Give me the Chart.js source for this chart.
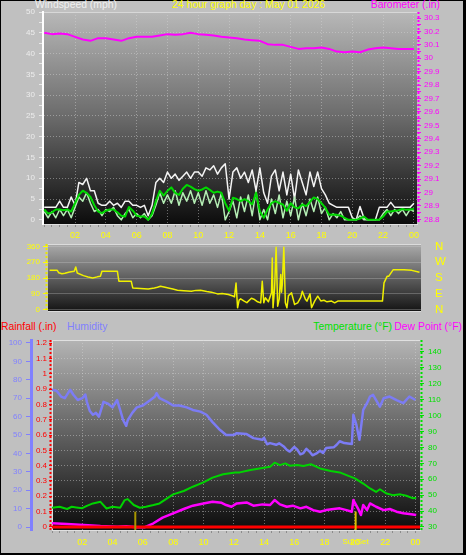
<!DOCTYPE html>
<html>
<head>
<meta charset="utf-8">
<script src="https://cdn.jsdelivr.net/npm/chart.js@4.4.1/dist/chart.umd.min.js"></script>
<style>
  html, body { margin: 0; padding: 0; background: #c0c0c0; }
  #frame {
    position: absolute; left: 0; top: 0; width: 466px; height: 555px;
    box-sizing: border-box; border-style: solid; border-color: #000;
    border-width: 1px 3px 2px 1px;
  }
  canvas { position: absolute; left: 0; }
  .t {
    position: absolute; white-space: nowrap; line-height: 12px;
    font: 10.4px "Liberation Sans", Arial, sans-serif;
  }
</style>
</head>
<body>
<div id="frame"></div>
<div class="t" style="left:35px; top:-1px; color:#f0f0f0">Windspeed (mph)</div>
<div class="t" style="left:172px; top:-1px; color:#ffff00">24 hour graph day : May 01 2026</div>
<div class="t" style="right:26px; top:-1px; color:#ff00ff">Barometer (.in)</div>
<div class="t" style="left:1px; top:321px; color:#ff0000">Rainfall (.in)</div>
<div class="t" style="left:67px; top:321px; color:#8080ff">Humidity</div>
<div class="t" style="right:74px; top:321px; color:#00e000">Temperature (°F)</div>
<div class="t" style="right:4px; top:321px; color:#ff00ff">Dew Point (°F)</div>

<canvas id="windChart" width="466" height="246" style="top:0"></canvas>
<canvas id="dirChart" width="466" height="84" style="top:236px"></canvas>
<canvas id="tempChart" width="466" height="225" style="top:330px"></canvas>

<script>
const FONT = '"Liberation Sans", Arial, sans-serif';

// ─── Data ────────────────────────────────────────────
// wind (mph), one reading every 15 min from 00:00 to 24:00
const windStep = 0.25;
const windGust = [
  3.0, 3.0, 3.0, 3.0, 4.5, 3.0, 3.0, 5.5,
  3.5, 9.0, 8.5, 10.0, 7.0, 7.0, 4.0, 3.5,
  3.5, 4.5, 3.5, 4.0, 3.0, 4.5, 4.5, 3.5,
  3.5, 3.0, 3.5, 1.0, 3.5, 9.0, 10.0, 9.0,
  11.5, 10.0, 11.0, 9.5, 10.5, 11.5, 10.0, 11.5,
  11.5, 10.5, 12.5, 12.0, 13.0, 11.0, 12.5, 13.5,
  5.0, 11.5, 12.5, 10.0, 11.5, 9.0, 12.0, 7.0,
  12.5, 6.5, 4.0, 10.5, 12.0, 7.0, 11.5, 6.0,
  11.0, 5.0, 12.0, 9.0, 6.0, 11.5, 8.0, 11.5,
  7.5, 6.0, 4.0, 3.5, 3.0, 3.0, 3.0, 3.0,
  0.5, 0, 3.2, 0.5, 0, 0, 0, 3.0,
  3.0, 3.0, 4.2, 3.0, 3.0, 3.0, 3.0, 3.0,
  4.0
];
const windSpeed = [
  2.0, 0.5, 2.0, 0.5, 2.5, 1.0, 2.5, 0.5,
  3.0, 5.5, 4.5, 6.5, 4.0, 2.0, 2.5, 1.0,
  2.5, 2.0, 3.0, 1.0, 0, 1.5, 2.5, 0.5,
  1.5, 0.5, 1.5, 0, 1.0, 3.5, 6.5, 4.0,
  6.0, 4.0, 7.0, 3.5, 6.5, 4.5, 7.0, 4.0,
  6.5, 3.5, 7.0, 4.0, 6.0, 3.0, 6.5, 0,
  2.0, 4.5, 0.5, 5.5, 2.0, 6.0, 1.0, 7.0,
  0, 2.5, 0, 5.0, 1.5, 6.0, 0.5, 4.5,
  1.0, 5.5, 0, 4.0, 1.0, 5.0, 2.0, 5.5,
  1.5, 3.0, 0, 1.5, 0.5, 2.0, 0, 0,
  0, 0, 1.0, 0, 0, 0, 0, 0,
  1.5, 2.5, 1.0, 2.5, 1.5, 2.5, 1.0, 2.5,
  2.0
];
const windAvg = [
  2.5, 1.5, 1.8, 2.5, 2.5, 2.3, 2.5, 2.0,
  4.0, 6.0, 7.0, 6.5, 5.5, 3.5, 2.0, 1.6,
  2.2, 2.5, 2.5, 1.8, 1.0, 0.8, 3.1, 2.2,
  1.0, 0.8, 0.8, 0.0, 1.5, 4.5, 7.0, 5.8,
  7.0, 7.8, 6.5, 6.0, 7.5, 8.4, 8.0, 7.4,
  7.0, 7.3, 7.8, 7.2, 6.5, 6.8, 6.5, 4.0,
  2.2, 5.3, 5.0, 4.5, 5.0, 4.5, 3.7, 6.5,
  2.0, 0.5, 2.5, 4.0, 4.5, 4.0, 3.7, 2.2,
  4.0, 3.0, 2.8, 3.7, 3.3, 4.3, 5.4, 5.0,
  4.0, 2.9, 1.2, 1.3, 1.2, 1.0, 0.5, 0,
  0, 0, 0.3, 0.8, 0, 0, 0, 0,
  0.8, 2.0, 2.0, 2.2, 2.3, 2.6, 2.4, 2.5,
  2.6
];

// barometer (in), every 30 min
const baroStep = 0.5;
const baro = [
  30.19, 30.18, 30.185, 30.18,
  30.16, 30.14, 30.13, 30.15,
  30.15, 30.14, 30.13, 30.15,
  30.16, 30.16, 30.16, 30.17,
  30.18, 30.175, 30.18, 30.19,
  30.18, 30.175, 30.17, 30.16,
  30.155, 30.15, 30.14, 30.135,
  30.13, 30.105, 30.10, 30.10,
  30.085, 30.07, 30.075, 30.075,
  30.08, 30.07, 30.05, 30.045,
  30.05, 30.045, 30.065, 30.075,
  30.08, 30.075, 30.07, 30.07,
  30.07
];

// wind direction (degrees)
const dirHours = [
  0, 0.5, 0.6, 0.8, 1.0, 1.3, 1.6, 1.7, 1.8, 2.2, 2.5, 2.8, 3.1, 3.3, 3.4, 4.4, 4.5,
  5.3, 5.4, 6.4, 6.8, 7.0, 7.2, 7.5, 7.7, 8.0, 8.3, 8.7, 9.2, 9.5, 9.8, 10.2, 10.5,
  10.9, 11.2, 11.6, 11.9, 12.0, 12.1, 12.2, 12.3, 12.4, 12.6, 12.8, 12.9, 13.1, 13.3,
  13.5, 13.7, 13.8, 13.9, 14.0, 14.2, 14.4, 14.45, 14.5, 14.6, 14.7, 14.8, 14.9, 15.0,
  15.05, 15.1, 15.2, 15.3, 15.4, 15.5, 15.7, 15.9, 16.1, 16.3, 16.4, 16.6, 16.7, 16.9,
  17.0, 17.2, 17.4, 17.6, 17.8, 18.0, 18.3, 18.5, 18.7, 21.6, 21.7, 21.9, 22.0, 22.3,
  23.0, 23.5, 24.0
];
const dirDeg = [
  224, 224, 210, 205, 208, 215, 219, 243, 209, 194, 186, 181, 187, 190, 219, 219, 162,
  162, 124, 118, 124, 128, 134, 128, 124, 118, 111, 108, 105, 110, 111, 104, 100,
  90, 92, 87, 78, 73, 152, 11, 55, 62, 50, 40, 49, 65, 58,
  45, 39, 162, 40, 68, 45, 96, 294, 11, 120, 356, 20, 60, 200,
  100, 143, 356, 40, 11, 80, 96, 30, 39, 70, 105, 60, 49, 90,
  11, 49, 77, 50, 54, 45, 49, 39, 49, 49, 153, 190, 190, 228,
  228, 224, 213
];

// humidity (%)
const humHours = [
  0, 0.3, 0.6, 0.85, 1.2, 1.4, 1.7, 2.0, 2.2, 2.3, 2.5, 2.7, 2.9, 3.1, 3.4, 3.7, 4.0,
  4.3, 4.5, 4.7, 4.9, 5.0, 5.3, 5.6, 6.0, 6.5, 6.8, 6.9, 7.1, 7.6, 8.0, 8.4, 8.9,
  9.3, 9.8, 10.2, 10.6, 11.1, 11.5, 12.0, 12.2, 12.85, 13.3, 13.9, 14.0, 14.2, 14.4,
  14.8, 15.0, 15.3, 15.5, 15.7, 16.0, 16.2, 16.4, 16.6, 16.8, 17.0, 17.2, 17.5, 17.7,
  17.9, 18.1, 18.6, 18.8, 19.0, 19.3, 19.8, 19.9, 20.1, 20.3, 20.55, 20.8, 21.0, 21.2,
  21.4, 21.65, 21.9, 22.3, 22.75, 23.2, 23.6, 24.0
];
const humidity = [
  74.6, 74, 70.9, 70, 74.6, 72, 69, 70, 72, 68, 63, 61, 62, 60, 68, 67, 65,
  69, 63.6, 58, 55, 58, 62, 65, 66, 69, 70.9, 72.7, 70, 68, 66, 66, 65,
  63.6, 62.7, 61, 57, 52.7, 50, 50, 51, 50.5, 48.3, 47.4, 48.5, 45, 45.6,
  44.7, 45.5, 43.8, 42, 41, 43.5, 42, 39.5, 40.2, 42.5, 41, 39, 40.2, 41.5,
  40.2, 42.9, 43.3, 44.7, 46.6, 45.6, 45.1, 61, 55.5, 47.4, 63.6, 67.3, 70.9, 71.8,
  69, 65.4, 70, 70.9, 69, 67.3, 70.9, 69
];

// temperature (°F)
const tempHours = [
  0, 0.5, 1.0, 1.3, 1.6, 2.0, 2.3, 2.7, 3.2, 3.6, 4.0, 4.5, 4.8, 5.0, 5.4, 5.8, 6.2,
  6.7, 7.1, 7.6, 8.0, 8.7, 9.3, 10.0, 10.6, 11.3, 12.1, 12.4, 13.1, 13.7, 14.4, 14.7,
  15.05, 15.4, 15.7, 16.2, 16.6, 17.1, 17.7, 18.4, 19.0, 19.45, 20.0, 20.55, 21.0,
  21.4, 21.65, 22.1, 22.5, 23.0, 23.4, 23.85, 24.05
];
const temperature = [
  42.1, 42.7, 41.3, 42.7, 42.3, 41.8, 43.3, 44.8, 45.8, 41.6, 42.7, 42.1, 46.9, 47.5, 43.8, 42.1, 42.7,
  43.8, 44.8, 48, 50.5, 52.6, 55.3, 58, 61, 63.1, 64.3, 64.3, 65.8, 66.8, 67.9, 70.4,
  68.9, 70, 68.5, 68.9, 68.3, 69.4, 66.8, 65.2, 64.3, 62.6, 60.5, 57.3, 54.2,
  52, 53.7, 51, 50, 50.5, 49.6, 48, 48.4
];

// dew point (°F)
const dewHours = [
  0, 1.0, 2.1, 3.2, 4.3, 4.9, 5.6, 6.1, 6.7, 7.3, 8.0, 8.7, 9.3, 10.0, 10.6, 11.2, 11.5,
  11.85, 12.2, 12.85, 13.3, 13.9, 14.4, 14.7, 15.05, 15.5, 15.9, 16.4, 16.8, 17.25, 17.7,
  18.1, 18.6, 19.0, 19.45, 19.8, 19.9, 20.2, 20.4, 20.55, 20.8, 21.0, 21.4, 21.9, 22.3,
  22.75, 23.2, 23.6, 24.05
];
const dewPoint = [
  32.3, 31.9, 31.3, 30.6, 30.2, 30.4, 29.8, 29.8, 32.3, 35.9, 38.6, 41.3, 43.4, 44.8, 45.9, 45.2, 43.8,
  42.7, 44.8, 45.4, 43.4, 44.2, 43.8, 46.9, 44.2, 42.7, 43.4, 41.7, 42.7, 40.6, 39.6,
  40.6, 41.3, 41.7, 40.6, 39.6, 46.9, 41.7, 37.5, 43.8, 40.6, 44.8, 42.7, 40.6, 41.3,
  39.6, 38.6, 38.2, 37.5
];

// rainfall (in)
const rainHours = [0, 24.3];
const rain = [0, 0];

const sunrise = 5.5;
const sunset = 20.05;

// ─── Helpers ─────────────────────────────────────────
const steps = (step, arr) => arr.map((v, i) => ({ x: i * step, y: v }));
const pairs = (hours, arr) => arr.map((v, i) => ({ x: hours[i], y: v }));

const hourLabel = v => {
    const r = Math.round(v * 2) / 2;
    if (r <= 0 || r % 2 !== 0) return '';
    return String(r % 24).padStart(2, '0');
};
const isMajorHour = ctx => {
    const r = Math.round(ctx.tick.value * 2) / 2;
    return r > 0 && r % 2 === 0;
};
const GRID = 'rgba(215,215,215,0.45)';
const NONE = 'rgba(0,0,0,0)';

// plot area: vertical grey-to-black fill plus light edges
const plotBg = {
    id: 'plotBg',
    beforeDraw(chart, args, opts) {
        const { ctx, chartArea: a } = chart;
        const g = ctx.createLinearGradient(0, a.top, 0, a.bottom);
        g.addColorStop(0, opts.top);
        g.addColorStop(0.5, opts.mid);
        g.addColorStop(1, opts.bottom);
        ctx.save();
        ctx.fillStyle = g;
        ctx.fillRect(a.left, a.top, a.right - a.left, a.bottom - a.top);
        ctx.strokeStyle = opts.edge;
        ctx.lineWidth = 1;
        ctx.beginPath();
        ctx.moveTo(a.left, a.top + 0.5); ctx.lineTo(a.right, a.top + 0.5);
        if (opts.edgeBottom) { ctx.moveTo(a.left, a.bottom - 0.5); ctx.lineTo(a.right, a.bottom - 0.5); }
        if (opts.edgeLeft) { ctx.moveTo(a.left + 0.5, a.top); ctx.lineTo(a.left + 0.5, a.bottom); }
        ctx.stroke();
        ctx.restore();
    }
};

// dotted axis lines, keyed by scale id
const dottedAxis = {
    id: 'dottedAxis',
    afterDraw(chart, args, opts) {
        const { ctx, chartArea: a } = chart;
        Object.keys(opts).forEach(id => {
            const s = chart.scales[id];
            if (!s) return;
            const x = s.position === 'left' ? s.right - 1.5 : s.left + 1.5;
            ctx.save();
            ctx.strokeStyle = opts[id];
            ctx.lineWidth = 2;
            ctx.setLineDash([2, 2]);
            ctx.beginPath();
            ctx.moveTo(x, a.top);
            ctx.lineTo(x, a.bottom);
            ctx.stroke();
            ctx.restore();
        });
    }
};

const sunLabel = {
    id: 'sunLabel',
    afterDraw(chart) {
        const { ctx, chartArea: a, scales } = chart;
        ctx.save();
        ctx.font = '8px ' + FONT;
        ctx.fillStyle = '#ffff00';
        ctx.textAlign = 'center';
        ctx.textBaseline = 'middle';
        ctx.fillText('SunSet', scales.x.getPixelForValue(sunset), a.bottom + 12);
        ctx.restore();
    }
};

const baseOptions = {
    responsive: false,
    animation: false,
    events: [],
    elements: { point: { radius: 0 }, line: { tension: 0, borderJoinStyle: 'round' } }
};

const timeAxis = (min, max, height, pad) => ({
    type: 'linear', min, max,
    afterFit: s => { s.height = height; },
    ticks: {
        stepSize: 0.5, includeBounds: false, autoSkip: false, maxRotation: 0,
        color: '#ffff00', font: { family: FONT, size: 9 }, padding: pad,
        callback: hourLabel
    },
    grid: { color: ctx => isMajorHour(ctx) ? GRID : NONE, tickColor: '#8c8c8c', tickLength: 3 },
    border: { color: '#e0e0e0', width: 1, dash: [1, 2] }
});

// ─── Wind speed / barometer ──────────────────────────
new Chart(document.getElementById('windChart'), {
    type: 'line',
    data: {
        datasets: [
            { label: 'Wind average', data: steps(windStep, windAvg), borderColor: '#00d800', borderWidth: 2, yAxisID: 'y', order: 0 },
            { label: 'Wind speed', data: steps(windStep, windSpeed), borderColor: '#b4eeb4', borderWidth: 1.5, yAxisID: 'y', order: 1 },
            { label: 'Wind gust', data: steps(windStep, windGust), borderColor: '#f4f4f4', borderWidth: 1.5, yAxisID: 'y', order: 2 },
            { label: 'Barometer', data: steps(baroStep, baro), borderColor: '#ff00ff', borderWidth: 2, yAxisID: 'yb', order: 3 }
        ]
    },
    options: {
        ...baseOptions,
        layout: { padding: { top: 12, left: 0, right: 0, bottom: 0 } },
        plugins: {
            legend: { display: false }, tooltip: { enabled: false },
            plotBg: { top: '#b8b8b8', mid: '#6a6a6a', bottom: '#0c0c0c', edge: '#d8d8d8' },
            dottedAxis: { yb: '#ff00ff' }
        },
        scales: {
            x: timeAxis(-0.08, 24.2, 22, 3),
            y: {
                position: 'left', min: -1, max: 50,
                afterFit: s => { s.width = 43; },
                ticks: {
                    stepSize: 2.5, includeBounds: false, autoSkip: false,
                    color: '#ececec', font: { family: FONT, size: 8 }, padding: 4,
                    callback: v => v % 5 === 0 ? v : ''
                },
                grid: {
                    color: ctx => ctx.tick.value % 5 === 0 && ctx.tick.value > 0 && ctx.tick.value < 50 ? GRID : NONE,
                    tickColor: '#e8e8e8', tickLength: 4
                },
                border: { color: '#ffffff', width: 2, dash: [1, 2] }
            },
            yb: {
                position: 'right', min: 28.765, max: 30.345,
                afterFit: s => { s.width = 49; },
                ticks: {
                    stepSize: 0.05, includeBounds: false, autoSkip: false,
                    color: '#ff00ff', font: { family: FONT, size: 8 }, padding: 3,
                    callback: v => Math.round(v * 100) % 10 === 0 ? String(Math.round(v * 10) / 10) : ''
                },
                grid: { drawOnChartArea: false, tickColor: '#ff00ff', tickLength: 4 },
                border: { display: false }
            }
        }
    },
    plugins: [plotBg, dottedAxis]
});

// ─── Wind direction ──────────────────────────────────
const compass = { 0: 'N', 90: 'E', 180: 'S', 270: 'W', 360: 'N' };
new Chart(document.getElementById('dirChart'), {
    type: 'line',
    data: {
        datasets: [
            { label: 'Direction', data: pairs(dirHours, dirDeg), borderColor: '#f0f000', borderWidth: 1.5, yAxisID: 'y' }
        ]
    },
    options: {
        ...baseOptions,
        layout: { padding: { top: 8, bottom: 8, left: 0, right: 0 } },
        plugins: {
            legend: { display: false }, tooltip: { enabled: false },
            plotBg: { top: '#ababab', mid: '#5e5e5e', bottom: '#121212', edge: '#dcdcdc', edgeBottom: true },
            dottedAxis: { y: '#e8e800' }
        },
        scales: {
            x: { type: 'linear', min: -0.1, max: 24.1, display: false },
            y: {
                position: 'left', min: -13, max: 374,
                afterFit: s => { s.width = 48; },
                ticks: {
                    stepSize: 90, includeBounds: false, autoSkip: false, color: '#ffff00',
                    font: { family: FONT, size: 8 }, padding: 3
                },
                grid: { color: 'rgba(210,210,210,0.3)', tickColor: '#ffff00', tickLength: 5 },
                border: { display: false }
            },
            y2: {
                position: 'right', min: -13, max: 374,
                afterFit: s => { s.width = 45; },
                ticks: {
                    stepSize: 90, includeBounds: false, autoSkip: false, color: '#ffff00',
                    font: { family: FONT, size: 11.5 }, padding: 0,
                    callback: v => compass[v] || ''
                },
                // invisible tick marks keep the letters clear of the plot
                grid: { drawOnChartArea: false, tickColor: NONE, tickLength: 14 },
                border: { display: false }
            }
        }
    },
    plugins: [plotBg, dottedAxis]
});

// ─── Rain / humidity / temperature / dew point ───────
new Chart(document.getElementById('tempChart'), {
    type: 'line',
    data: {
        datasets: [
            { label: 'Sunrise', data: [{ x: sunrise, y: -0.02 }, { x: sunrise, y: 0.1 }], borderColor: '#a89600', borderWidth: 2, yAxisID: 'yr', order: 0 },
            { label: 'Sunset', data: [{ x: sunset, y: -0.02 }, { x: sunset, y: 0.1 }], borderColor: '#d8c000', borderWidth: 2, yAxisID: 'yr', order: 1 },
            { label: 'Rainfall', data: pairs(rainHours, rain), borderColor: '#ff0000', borderWidth: 3, yAxisID: 'yr', order: 2 },
            { label: 'Dew Point', data: pairs(dewHours, dewPoint), borderColor: '#ff00ff', borderWidth: 2.5, yAxisID: 'yt', order: 3 },
            { label: 'Temperature', data: pairs(tempHours, temperature), borderColor: '#00d400', borderWidth: 2, yAxisID: 'yt', order: 4 },
            { label: 'Humidity', data: pairs(humHours, humidity), borderColor: '#7c7cf4', borderWidth: 2.5, yAxisID: 'yh', order: 5 }
        ]
    },
    options: {
        ...baseOptions,
        layout: { padding: { top: 10, left: 0, right: 0, bottom: 0 } },
        plugins: {
            legend: { display: false }, tooltip: { enabled: false },
            plotBg: { top: '#b4b4b4', mid: '#606060', bottom: '#0c0c0c', edge: '#e0e0e0', edgeLeft: true },
            dottedAxis: { yr: '#ff0000', yt: '#00e000' }
        },
        scales: {
            x: timeAxis(0, 24.3, 25, 4),
            yh: {
                position: 'left', weight: 2, min: -1.6, max: 101.6,
                afterFit: s => { s.width = 31; },
                ticks: {
                    stepSize: 10, includeBounds: false, autoSkip: false, color: '#8080ff',
                    font: { family: FONT, size: 8 }, padding: 4
                },
                grid: { drawOnChartArea: false, tickColor: '#8080ff', tickLength: 5 },
                border: { color: '#8080ff', width: 3 }
            },
            yr: {
                position: 'left', weight: 1, min: -0.02, max: 1.22,
                afterFit: s => { s.width = 21; },
                ticks: {
                    stepSize: 0.1, includeBounds: false, autoSkip: false, color: '#ff0000',
                    font: { family: FONT, size: 8 }, padding: 2,
                    callback: v => String(Math.round(v * 10) / 10)
                },
                grid: {
                    color: ctx => ctx.tick.value > 0.05 && ctx.tick.value < 1.15 ? GRID : NONE,
                    tickColor: '#ff0000', tickLength: 3
                },
                border: { display: false, dash: [1, 2] }
            },
            yt: {
                position: 'right', min: 28.1, max: 147.5,
                afterFit: s => { s.width = 46; },
                ticks: {
                    stepSize: 10, includeBounds: false, autoSkip: false, color: '#00e000',
                    font: { family: FONT, size: 8 }, padding: 4
                },
                grid: { drawOnChartArea: false, tickColor: '#00e000', tickLength: 4 },
                border: { display: false }
            }
        }
    },
    plugins: [plotBg, dottedAxis, sunLabel]
});
</script>
</body>
</html>
